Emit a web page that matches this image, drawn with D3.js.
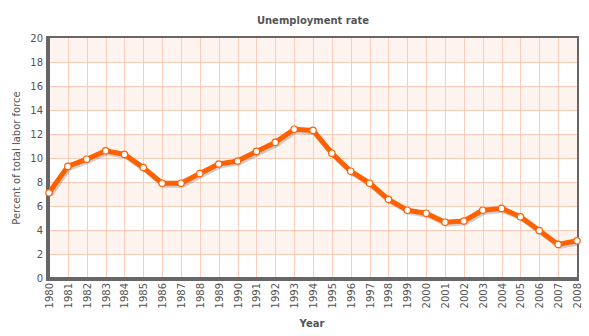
<!DOCTYPE html>
<html><head><meta charset="utf-8">
<script src="https://cdn.jsdelivr.net/npm/d3@7"></script>
<style>
body{margin:0;background:#fff;}
svg{display:block;font-family:"DejaVu Sans",Verdana,sans-serif;}
</style></head>
<body><svg id="c" width="589" height="336"></svg>
<script>
const years = [1980,1981,1982,1983,1984,1985,1986,1987,1988,1989,1990,1991,1992,1993,1994,1995,1996,1997,1998,1999,2000,2001,2002,2003,2004,2005,2006,2007,2008];
const rates = [7.1,9.3,9.9,10.6,10.3,9.2,7.9,7.9,8.7,9.5,9.75,10.55,11.3,12.4,12.3,10.4,8.9,7.9,6.55,5.65,5.4,4.65,4.75,5.65,5.8,5.1,3.95,2.8,3.1];
const yTicks = [0,2,4,6,8,10,12,14,16,18,20];
const title = "Unemployment rate";
const xTitle = "Year";
const yTitle = "Percent of total labor force";

const svg = d3.select("#c");
const L = 49, R = 577, T = 38, B = 278;
const x = d3.scaleLinear().domain([1980, 2008]).range([L, R]);
const y = d3.scaleLinear().domain([0, 20]).range([B, T]);

// alternate bands
const bands = yTicks.slice(0, -1).filter((d, i) => i % 2 === 1);
svg.append("g").selectAll("rect").data(bands).join("rect")
  .attr("x", L).attr("width", R - L)
  .attr("y", d => y(d + 2)).attr("height", d => y(d) - y(d + 2))
  .attr("fill", "#fdf4ef");

// grid
const grid = svg.append("g").attr("stroke", "#fbcdb8").attr("stroke-width", 1);
grid.selectAll("line.h").data(yTicks.slice(1, -1)).join("line").attr("class", "h")
  .attr("x1", L).attr("x2", R).attr("y1", d => Math.round(y(d)) + 0.5).attr("y2", d => Math.round(y(d)) + 0.5);
grid.selectAll("line.v").data(years.slice(1, -1)).join("line").attr("class", "v")
  .attr("y1", T).attr("y2", B).attr("x1", d => Math.round(x(d)) + 0.5).attr("x2", d => Math.round(x(d)) + 0.5);

// border
svg.append("rect").attr("x", L).attr("y", T - 1).attr("width", R - L + 1).attr("height", B - T + 1)
  .attr("fill", "none").attr("stroke", "#666").attr("stroke-width", 2);
svg.append("line").attr("x1", L - 1.5).attr("x2", L - 1.5).attr("y1", T - 2).attr("y2", B + 2.5).attr("stroke", "#666").attr("stroke-width", 3);
svg.append("line").attr("x1", L - 3).attr("x2", R + 2).attr("y1", B + 1.5).attr("y2", B + 1.5).attr("stroke", "#666").attr("stroke-width", 3);

// axes
const yAxis = d3.axisLeft(y).tickValues(yTicks).tickSize(0).tickPadding(5);
const gy = svg.append("g").attr("transform", `translate(${L - 1},0)`).call(yAxis);
gy.select(".domain").remove();
gy.selectAll("text").attr("fill", "#555").style("font-size", "10px").style("font-family", "DejaVu Sans");

const xAxis = d3.axisBottom(x).tickValues(years).tickFormat(d3.format("d")).tickSize(0);
const gx = svg.append("g").attr("transform", `translate(0,${B + 4})`).call(xAxis);
gx.select(".domain").remove();
gx.selectAll("text").attr("fill", "#555").style("font-size", "10px").style("font-family", "DejaVu Sans")
  .attr("transform", "rotate(-90)").attr("text-anchor", "end").attr("x", -1).attr("y", 0).attr("dy", "0.35em");

// line
const line = d3.line().x((d, i) => x(years[i])).y(d => y(d));
svg.append("path").datum(rates).attr("d", line).attr("fill", "none")
  .attr("stroke", "rgba(0,0,0,0.18)").attr("stroke-width", 5).attr("stroke-linejoin", "round")
  .attr("transform", "translate(1.5,2)");
svg.append("path").datum(rates).attr("d", line).attr("fill", "none")
  .attr("stroke", "#ff6000").attr("stroke-width", 5).attr("stroke-linejoin", "round").attr("stroke-linecap", "round");
svg.append("g").selectAll("circle").data(rates).join("circle")
  .attr("cx", (d, i) => x(years[i])).attr("cy", d => y(d)).attr("r", 3.2)
  .attr("fill", "#fff").attr("stroke", "#ff6000").attr("stroke-width", 1.2);

// titles
svg.append("text").attr("x", 313).attr("y", 24).attr("text-anchor", "middle")
  .style("font-size", "10px").style("font-weight", "bold").attr("fill", "#555").text(title);
svg.append("text").attr("x", 312).attr("y", 327).attr("text-anchor", "middle")
  .style("font-size", "10px").style("font-weight", "bold").attr("fill", "#555").text(xTitle);
svg.append("text").attr("transform", `translate(20,${(T + B) / 2}) rotate(-90)`).attr("text-anchor", "middle")
  .style("font-size", "10px").attr("fill", "#555").text(yTitle);
</script></body></html>
